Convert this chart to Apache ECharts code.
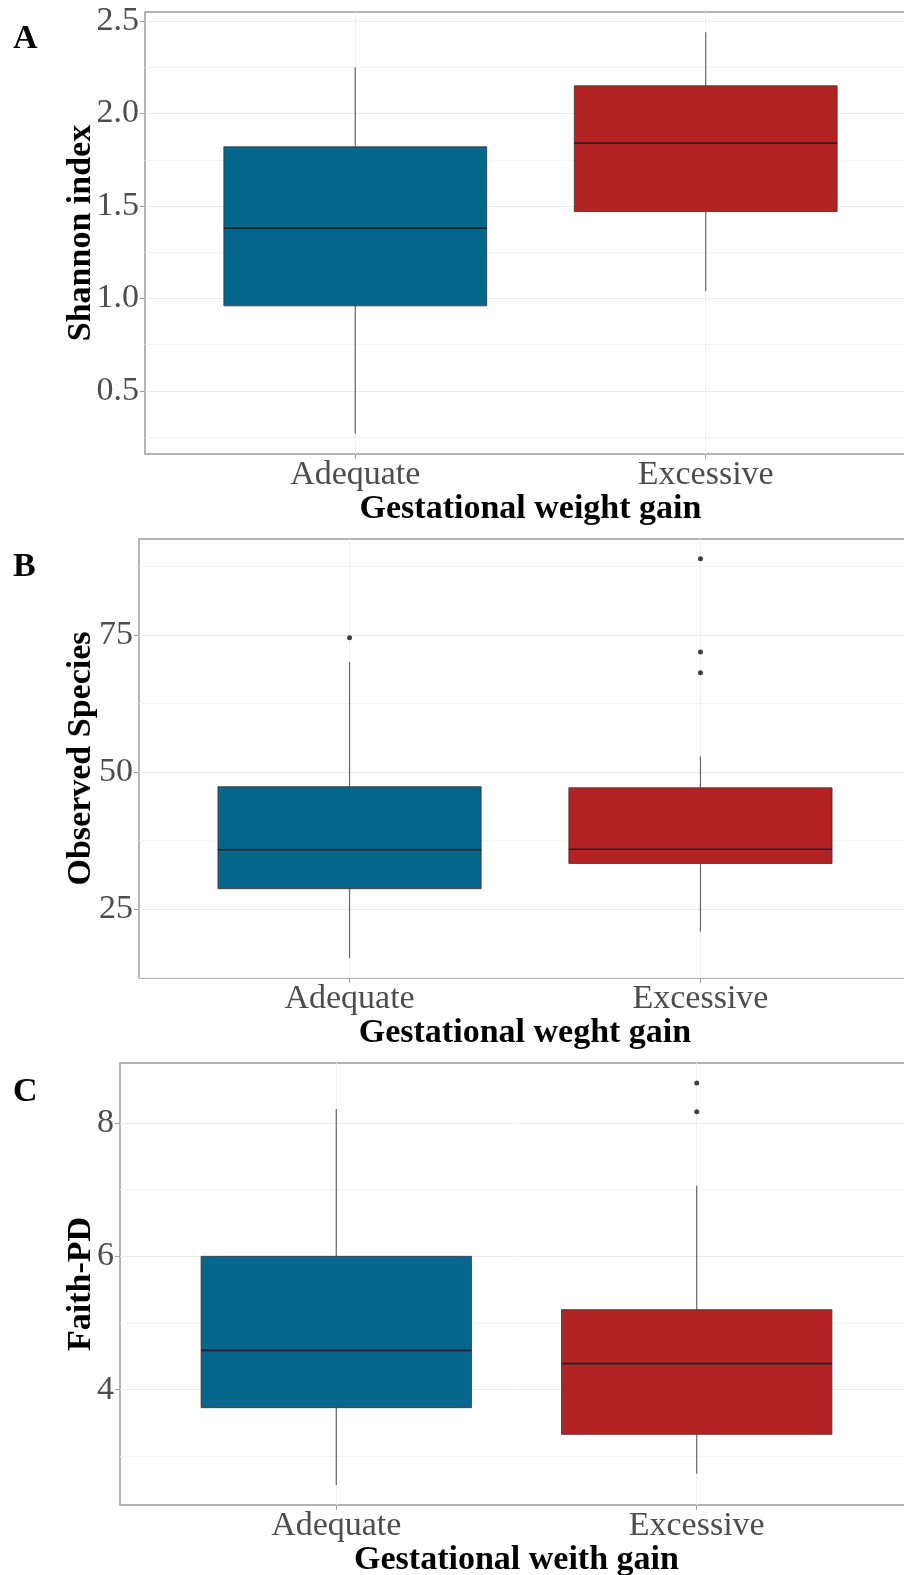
<!DOCTYPE html>
<html>
<head>
<meta charset="utf-8">
<script src="https://cdn.jsdelivr.net/npm/echarts@6/dist/echarts.min.js"></script>
<style>
  html, body { margin: 0; padding: 0; background: #fff; }
  #chart { width: 904px; height: 1575px; }
</style>
</head>
<body>
<div id="chart"></div>
<script>
// groups on the x axis
const groups = ['Adequate', 'Excessive'];
const groupPos = [1, 2];

// box stats: [min, Q1, median, Q3, max]
const shannonAdequate = [0.27, 0.96, 1.38, 1.82, 2.25];
const shannonExcessive = [1.04, 1.47, 1.84, 2.15, 2.44];

const observedAdequate = [16, 28.7, 35.8, 47.3, 70.1];
const observedExcessive = [20.9, 33.3, 35.9, 47.1, 52.8];
const observedOutliersAdequate = [74.5];
const observedOutliersExcessive = [88.9, 71.9, 68.1];

const faithAdequate = [2.57, 3.73, 4.59, 6.0, 8.21];
const faithExcessive = [2.74, 3.33, 4.39, 5.2, 7.06];
const faithOutliersAdequate = [];
const faithOutliersExcessive = [8.6, 8.17];

// tick labels
const shannonTicks = [0.5, 1.0, 1.5, 2.0, 2.5];
const shannonMinor = [0.25, 0.75, 1.25, 1.75, 2.25];
const observedTicks = [25, 50, 75];
const observedMinor = [12.5, 37.5, 62.5, 87.5];
const faithTicks = [4, 6, 8];
const faithMinor = [3, 5, 7];

const FILLS = ['#03668a', '#b22222'];
const SERIF = 'Liberation Serif';

const panels = [
  { letter: 'A', yName: 'Shannon index', xName: 'Gestational weight gain',
    stats: [shannonAdequate, shannonExcessive], outliers: [[], []],
    ticks: shannonTicks, minor: shannonMinor, yMin: 0.159, yMax: 2.549, digits: 1,
    grid: { left: 145, right: -12, top: 12, height: 442 }, yNameGap: 47, letterTop: 17 },
  { letter: 'B', yName: 'Observed Species', xName: 'Gestational weght gain',
    stats: [observedAdequate, observedExcessive], outliers: [observedOutliersAdequate, observedOutliersExcessive],
    ticks: observedTicks, minor: observedMinor, yMin: 12.4, yMax: 92.5, digits: 0,
    grid: { left: 139, right: -7, top: 539, height: 439 }, yNameGap: 41, letterTop: 545 },
  { letter: 'C', yName: 'Faith-PD', xName: 'Gestational weith gain',
    stats: [faithAdequate, faithExcessive], outliers: [faithOutliersAdequate, faithOutliersExcessive],
    ticks: faithTicks, minor: faithMinor, yMin: 2.27, yMax: 8.9, digits: 0,
    grid: { left: 120, right: -9, top: 1063, height: 442 }, yNameGap: 22, letterTop: 1070 }
];

function renderBox(params, api) {
  const x = api.value(0);
  const lo = api.coord([x, api.value(1)]);
  const q1 = api.coord([x, api.value(2)]);
  const med = api.coord([x, api.value(3)]);
  const q3 = api.coord([x, api.value(4)]);
  const hi = api.coord([x, api.value(5)]);
  const half = api.size([0.75, 0])[0] / 2;
  const fill = FILLS[params.dataIndex];
  return {
    type: 'group',
    children: [
      { type: 'line', shape: { x1: lo[0], y1: lo[1], x2: q1[0], y2: q1[1] },
        style: { stroke: '#666', lineWidth: 1.2 } },
      { type: 'line', shape: { x1: q3[0], y1: q3[1], x2: hi[0], y2: hi[1] },
        style: { stroke: '#666', lineWidth: 1.2 } },
      { type: 'rect', shape: { x: q3[0] - half, y: q3[1], width: half * 2, height: q1[1] - q3[1] },
        style: { fill: fill, stroke: '#4a2a2a', lineWidth: 0.8 } },
      { type: 'line', shape: { x1: med[0] - half, y1: med[1], x2: med[0] + half, y2: med[1] },
        style: { stroke: '#222', lineWidth: 1.6 } }
    ]
  };
}

const grids = [], xAxes = [], yAxes = [], series = [], titles = [];

panels.forEach((p, i) => {
  grids.push(Object.assign({
    show: true, borderColor: '#9c9c9c', borderWidth: 1.5, backgroundColor: '#fff',
    outerBoundsMode: 'none', containLabel: false
  }, p.grid));

  xAxes.push({
    type: 'value', gridIndex: i, min: 0.4, max: 2.6,
    name: p.xName, nameLocation: 'middle', nameGap: 38, nameMoveOverlap: false,
    nameTextStyle: { fontFamily: SERIF, fontSize: 34, fontWeight: 'bold', color: '#000' },
    axisLine: { show: false },
    axisTick: { show: true, length: 5, customValues: groupPos, lineStyle: { color: '#9c9c9c' } },
    axisLabel: { customValues: groupPos, margin: 4, fontFamily: SERIF, fontSize: 34, color: '#4d4d4d',
      formatter: v => groups[Math.round(v) - 1] },
    splitLine: { show: true, lineStyle: { color: '#efefef', width: 1 } }
  });

  yAxes.push({
    type: 'value', gridIndex: i, min: p.yMin, max: p.yMax,
    name: p.yName, nameLocation: 'middle', nameGap: p.yNameGap, nameMoveOverlap: false,
    nameTextStyle: { fontFamily: SERIF, fontSize: 34, fontWeight: 'bold', color: '#000' },
    axisLine: { show: false },
    axisTick: { show: true, length: 5, customValues: p.ticks, lineStyle: { color: '#9c9c9c' } },
    axisLabel: { customValues: p.ticks, margin: 6, fontFamily: SERIF, fontSize: 34, color: '#4d4d4d',
      formatter: v => v.toFixed(p.digits) },
    splitLine: { show: true, lineStyle: { color: '#ececec', width: 1 } }
  });
  // minor gridlines
  yAxes.push({
    type: 'value', gridIndex: i, min: p.yMin, max: p.yMax,
    axisLine: { show: false },
    axisTick: { show: false, customValues: p.minor },
    axisLabel: { show: false, customValues: p.minor },
    splitLine: { show: true, lineStyle: { color: '#f5f5f5', width: 1 } }
  });

  series.push({
    type: 'custom', xAxisIndex: i, yAxisIndex: i * 2,
    renderItem: renderBox,
    encode: { x: 0, y: [1, 2, 3, 4, 5] },
    data: p.stats.map((s, k) => [groupPos[k]].concat(s)),
    z: 3
  });

  const pts = [];
  p.outliers.forEach((arr, k) => arr.forEach(v => pts.push([groupPos[k], v])));
  series.push({
    type: 'scatter', xAxisIndex: i, yAxisIndex: i * 2,
    data: pts, symbolSize: 5, itemStyle: { color: '#111' }, z: 4
  });

  titles.push({
    text: p.letter, left: 8, top: p.letterTop,
    textStyle: { fontFamily: SERIF, fontSize: 34, fontWeight: 'bold', color: '#000' }
  });
});

const chart = echarts.init(document.getElementById('chart'));
chart.setOption({
  animation: false,
  backgroundColor: '#fff',
  title: titles,
  grid: grids,
  xAxis: xAxes,
  yAxis: yAxes,
  series: series
});
</script>
</body>
</html>
